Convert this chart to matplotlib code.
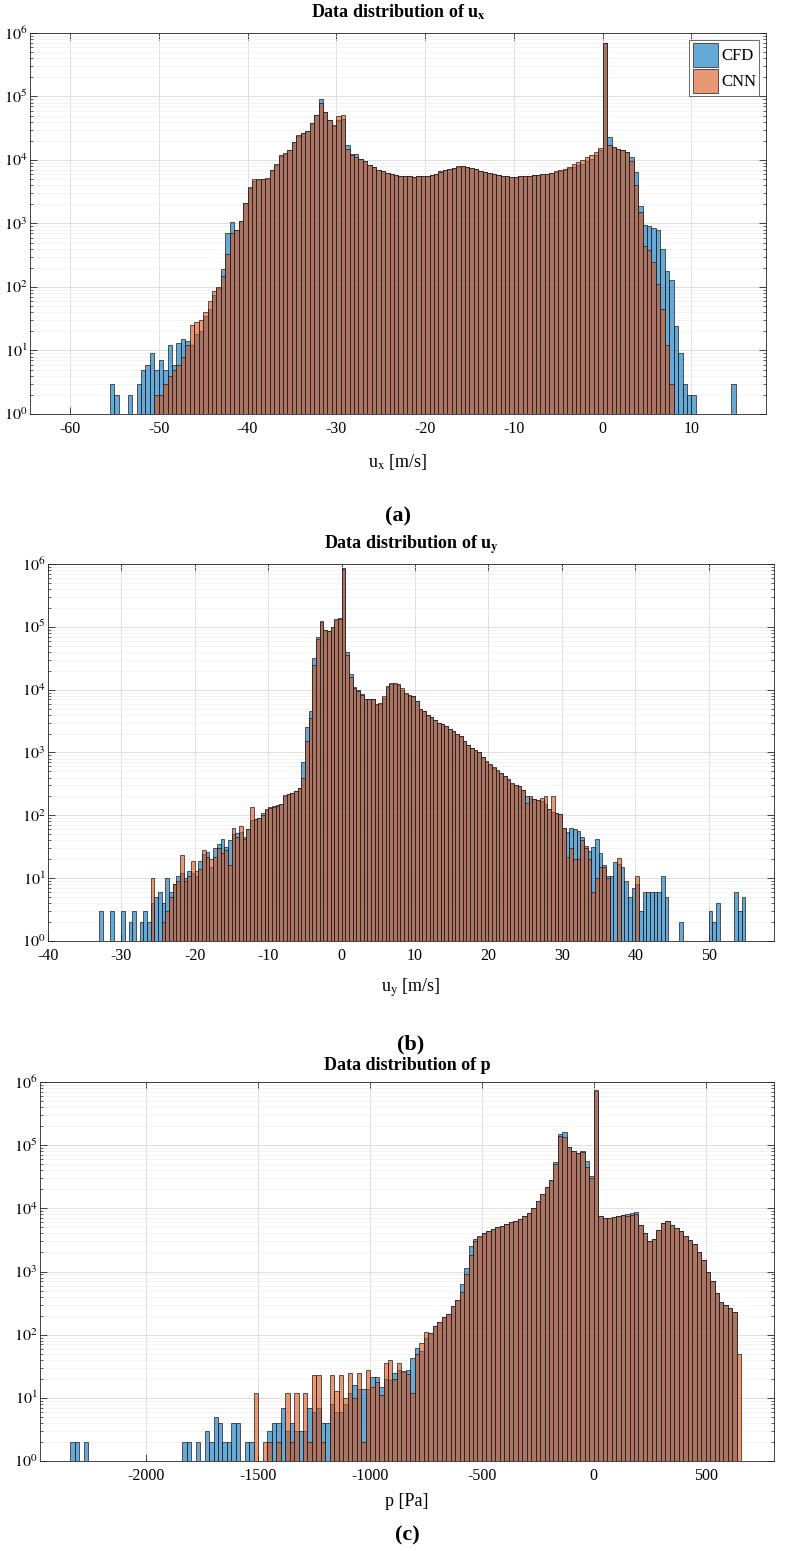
import numpy as np
import matplotlib
matplotlib.use("Agg")
import matplotlib.pyplot as plt
from matplotlib.ticker import LogLocator, NullFormatter, FixedLocator, FixedFormatter

plt.rcParams["font.family"] = ["Liberation Serif", "DejaVu Serif"]
plt.rcParams["mathtext.fontset"] = "stix"

# ---------------- data (counts per bin) ----------------
# u_x : bins of 0.5 m/s from -55.5 to 15.0
UX_EDGES = np.arange(-55.5, 15.01, 0.5)
CFD_UX = [
    3, 2, 0, 0, 2, 0, 3, 5, 6, 9,
    5, 7, 5, 12, 6, 13, 15, 14, 12, 18,
    20, 35, 45, 75, 95, 190, 700, 1070, 800, 1100,
    2100, 3600, 4700, 4900, 5000, 5100, 7000, 8300, 11500, 12500,
    14500, 19000, 24000, 27000, 29000, 38000, 52000, 92000, 57000, 42000,
    34000, 42000, 45000, 17000, 12500, 12500, 10500, 9500, 8400, 7900,
    7000, 6700, 6300, 6000, 5800, 5700, 5600, 5500, 5400, 5500,
    5600, 5700, 5800, 6000, 6600, 7000, 7100, 7500, 7900, 8000,
    7900, 7500, 7100, 6800, 6400, 6200, 6000, 5800, 5700, 5600,
    5400, 5400, 5500, 5600, 5700, 5800, 5900, 6000, 6100, 6300,
    6500, 6700, 7000, 7400, 7800, 8200, 8800, 9500, 10500, 12000,
    14500, 690000, 23000, 16000, 15000, 14500, 13500, 11000, 6500, 1900,
    950, 900, 850, 800, 400, 180, 130, 24, 9, 3,
    2, 2, 0, 0, 0, 0, 0, 0, 0, 0,
    3]
CNN_UX = [
    0, 0, 0, 0, 0, 0, 0, 0, 0, 0,
    2, 2, 3, 4, 5, 6, 8, 12, 25, 28,
    30, 40, 60, 85, 100, 150, 330, 700, 800, 1100,
    2100, 3700, 5000, 5100, 5100, 5200, 7000, 8500, 12000, 13000,
    14500, 19000, 25000, 27000, 29000, 38000, 52000, 78000, 57000, 42000,
    36000, 50000, 52000, 15000, 12000, 11000, 10500, 9500, 8400, 7900,
    7000, 6700, 6300, 6000, 5800, 5700, 5600, 5500, 5400, 5500,
    5600, 5700, 5800, 6000, 6500, 7000, 7200, 7600, 8000, 8100,
    7900, 7500, 7100, 6800, 6400, 6200, 6000, 5800, 5700, 5600,
    5400, 5400, 5500, 5600, 5700, 5800, 5900, 6000, 6100, 6300,
    6600, 6900, 7300, 7900, 8600, 9300, 10000, 11000, 12000, 13500,
    15500, 700000, 17000, 16000, 15000, 14500, 13500, 9500, 4000, 1500,
    450, 380, 250, 110, 45, 12, 3, 0, 0, 0,
    0, 0, 0, 0, 0, 0, 0, 0, 0, 0,
    0]

# u_y : bins of 0.5 m/s from -33.0 to 55.5
UY_EDGES = np.arange(-33.0, 55.51, 0.5)
CFD_UY = [
    3, 0, 0, 3, 0, 0, 3, 0, 2, 3,
    0, 2, 3, 2, 4, 5, 6, 4, 10, 6,
    8, 11, 12, 10, 13, 12, 11, 19, 24, 26,
    15, 30, 35, 42, 31, 40, 50, 53, 55, 45,
    60, 85, 88, 92, 110, 120, 135, 140, 145, 150,
    200, 220, 230, 240, 270, 700, 2500, 4500, 32000, 70000,
    120000, 89000, 85000, 100000, 130000, 140000, 850000, 40000, 18000, 11000,
    10000, 8500, 7200, 7000, 7000, 5800, 6000, 7500, 11000, 12500,
    12500, 12000, 10000, 8500, 8000, 7800, 6500, 5000, 4500, 4000,
    3700, 3300, 3000, 2800, 2600, 2400, 2200, 2000, 1800, 1500,
    1300, 1200, 1100, 1000, 850, 700, 640, 560, 510, 470,
    420, 370, 320, 300, 290, 250, 200, 190, 185, 175,
    170, 150, 125, 115, 110, 105, 63, 54, 63, 60,
    56, 45, 32, 27, 31, 42, 25, 16, 11, 11,
    18, 17, 15, 9, 5, 7, 8, 3, 6, 6,
    6, 6, 6, 11, 5, 0, 0, 0, 2, 0,
    0, 0, 0, 0, 0, 0, 3, 2, 4, 0,
    0, 0, 0, 6, 3, 5, 0]
CNN_UY = [
    0, 0, 0, 0, 0, 0, 0, 0, 0, 0,
    0, 0, 0, 0, 10, 0, 0, 2, 3, 5,
    8, 9, 23, 9, 11, 19, 13, 14, 28, 22,
    20, 22, 30, 25, 28, 16, 64, 45, 68, 42,
    60, 134, 87, 92, 100, 125, 133, 135, 140, 150,
    210, 220, 230, 240, 270, 400, 1500, 3500, 25000, 65000,
    125000, 89000, 85000, 100000, 135000, 135000, 830000, 35000, 16000, 10500,
    9500, 8300, 7200, 7000, 7000, 6000, 6200, 8000, 11500, 13000,
    13000, 12500, 10500, 9000, 8200, 7800, 6500, 5000, 4500, 4000,
    3700, 3300, 3000, 2800, 2600, 2400, 2200, 2000, 1800, 1500,
    1300, 1200, 1100, 1000, 850, 720, 660, 580, 530, 480,
    430, 380, 330, 300, 290, 250, 160, 200, 185, 175,
    190, 200, 125, 200, 110, 105, 63, 22, 30, 20,
    20, 40, 30, 20, 6, 10, 15, 15, 10, 0,
    0, 21, 0, 0, 0, 0, 11, 0, 0, 0,
    0, 0, 0, 0, 0, 0, 0, 0, 0, 0,
    0, 0, 0, 0, 0, 0, 0, 0, 0, 0,
    0, 0, 0, 0, 0, 0, 0]

# p : bins of 20 Pa from -2340 to 680
P_EDGES = np.arange(-2340, 681, 20)
CFD_P = [
    2, 2, 0, 2, 0, 0, 0, 0, 0, 0,
    0, 0, 0, 0, 0, 0, 0, 0, 0, 0,
    0, 0, 0, 0, 0, 2, 2, 0, 2, 0,
    3, 2, 5, 4, 2, 2, 4, 4, 0, 2,
    2, 0, 0, 0, 3, 4, 4, 7, 3, 4,
    3, 3, 3, 7, 6, 7, 4, 4, 8, 6,
    6, 8, 12, 16, 14, 14, 14, 21, 21, 15,
    20, 19, 25, 28, 26, 28, 43, 62, 55, 90,
    105, 137, 160, 190, 210, 280, 350, 640, 1150, 2500,
    3300, 3500, 4000, 4300, 4700, 5000, 5300, 5700, 6000, 6300,
    6800, 7500, 8500, 10000, 13000, 17000, 22000, 28000, 55000, 150000,
    160000, 95000, 80000, 74000, 80000, 56000, 32000, 720000, 7500, 7000,
    7000, 7200, 7500, 7800, 8000, 8500, 8800, 5500, 4000, 3000,
    3300, 4500, 5800, 6300, 5500, 4800, 4300, 3600, 3200, 2700,
    2000, 1500, 1000, 700, 450, 330, 290, 260, 230, 0,
    0]
CNN_P = [
    0, 0, 0, 0, 0, 0, 0, 0, 0, 0,
    0, 0, 0, 0, 0, 0, 0, 0, 0, 0,
    0, 0, 0, 0, 0, 0, 0, 0, 0, 0,
    0, 0, 0, 0, 0, 0, 0, 0, 0, 0,
    0, 12, 0, 2, 2, 0, 2, 0, 12, 2,
    12, 0, 12, 2, 23, 23, 2, 0, 23, 13,
    23, 10, 25, 10, 25, 2, 28, 15, 18, 11,
    36, 40, 20, 36, 27, 24, 12, 50, 74, 110,
    105, 137, 160, 190, 210, 280, 350, 470, 900, 1800,
    3000, 3600, 4000, 4300, 4700, 5000, 5300, 5700, 6000, 6300,
    6800, 7500, 8500, 10000, 13000, 17000, 22000, 28000, 50000, 140000,
    135000, 95000, 80000, 74000, 78000, 45000, 30000, 740000, 7500, 7000,
    7000, 7200, 7500, 7800, 7500, 7800, 8000, 5500, 4000, 3000,
    3300, 4500, 5800, 6300, 5500, 4800, 4300, 3600, 3200, 2700,
    2000, 1500, 1000, 700, 450, 330, 290, 260, 230, 50,
    0]

PANELS = [
    dict(edges=UX_EDGES, cfd=CFD_UX, cnn=CNN_UX, xlim=(-64.5, 18.4),
         xticks=[-60, -50, -40, -30, -20, -10, 0, 10],
         title=r"Data distribution of u$_\mathbf{x}$", xlabel=r"u$_\mathrm{x}$ [m/s]",
         tag="(a)", box=(30, 33, 766, 414), title_y=12, xlabel_y=462, tag_y=516),
    dict(edges=UY_EDGES, cfd=CFD_UY, cnn=CNN_UY, xlim=(-40.0, 58.9),
         xticks=[-40, -30, -20, -10, 0, 10, 20, 30, 40, 50],
         title=r"Data distribution of u$_\mathbf{y}$", xlabel=r"u$_\mathrm{y}$ [m/s]",
         tag="(b)", box=(48, 564, 774, 941), title_y=545, xlabel_y=988, tag_y=1044),
    dict(edges=P_EDGES, cfd=CFD_P, cnn=CNN_P, xlim=(-2476, 806),
         xticks=[-2000, -1500, -1000, -500, 0, 500],
         title="Data distribution of p", xlabel="p [Pa]",
         tag="(c)", box=(40, 1082, 774, 1461), title_y=1066, xlabel_y=1502, tag_y=1535),
]

W, H = 786, 1551
fig = plt.figure(figsize=(W / 100, H / 100), dpi=100)

BLUE = (0.0, 0.447, 0.741, 0.6)
ORANGE = (0.85, 0.325, 0.098, 0.6)
EDGE = (0.12, 0.1, 0.1)
AXC = "#262626"

for pnl in PANELS:
    l, t, r, b = pnl["box"]
    ax = fig.add_axes([l / W, 1 - b / H, (r - l) / W, (b - t) / H])
    edges = pnl["edges"]
    w = edges[1] - edges[0]
    for counts, col, lab in ((pnl["cfd"], BLUE, "CFD"), (pnl["cnn"], ORANGE, "CNN")):
        counts = np.asarray(counts, float)
        m = counts > 0
        ax.bar(edges[:-1][m], counts[m], width=w, align="edge", color=col,
               edgecolor=EDGE, linewidth=0.5, label=lab, zorder=2)
    ax.set_yscale("log")
    ax.set_ylim(1, 1e6)
    ax.set_xlim(*pnl["xlim"])
    ax.set_axisbelow(True)

    ax.xaxis.set_major_locator(FixedLocator(pnl["xticks"]))
    ax.xaxis.set_major_formatter(FixedFormatter([str(v) for v in pnl["xticks"]]))
    ax.yaxis.set_minor_locator(LogLocator(base=10, subs=np.arange(2, 10), numticks=10))
    ax.yaxis.set_minor_formatter(NullFormatter())
    ax.set_yticks([10.0 ** k for k in range(7)])
    ax.set_yticklabels([r"$10^{%d}$" % k for k in range(7)])

    ax.grid(True, which="major", color="#dadada", linewidth=0.6)
    ax.grid(True, which="minor", axis="y", color="#eeeeee", linewidth=0.5)
    ax.tick_params(which="both", direction="in", top=True, right=True, colors=AXC,
                   labelcolor="black", labelsize=11.5)
    ax.tick_params(which="major", length=5, width=0.6)
    ax.tick_params(which="minor", length=2.5, width=0.5)
    ax.tick_params(axis="x", pad=5)
    ax.tick_params(axis="y", pad=2)
    for s in ax.spines.values():
        s.set_color(AXC)
        s.set_linewidth(0.6)

    cx = (l + r) / 2 / W
    fig.text(cx, 1 - pnl["title_y"] / H, pnl["title"], ha="center", va="center",
             fontsize=13, fontweight="bold")
    fig.text(cx, 1 - pnl["xlabel_y"] / H, pnl["xlabel"], ha="center", va="center",
             fontsize=13)
    fig.text(cx, 1 - pnl["tag_y"] / H, pnl["tag"], ha="center", va="center",
             fontsize=16, fontweight="bold")

    if pnl["tag"] == "(a)":
        leg = ax.legend(loc="upper right", fontsize=12, frameon=True, fancybox=False,
                        handlelength=1.5, handleheight=1.8, borderpad=0.2,
                        labelspacing=0.15, handletextpad=0.2, borderaxespad=0.4)
        leg.get_frame().set_edgecolor(AXC)
        leg.get_frame().set_linewidth(0.6)

fig.savefig("out.png", dpi=100)
